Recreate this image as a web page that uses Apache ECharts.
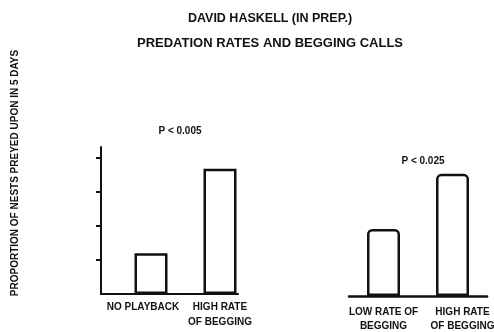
<!DOCTYPE html>
<html>
<head>
<meta charset="utf-8">
<script src="https://cdn.jsdelivr.net/npm/echarts@6/dist/echarts.min.js"></script>
<style>html,body{margin:0;padding:0;background:#fff}#c{width:494px;height:332px}</style>
</head>
<body>
<div id="c"></div>
<script>
var leftCategories = ['NO PLAYBACK', 'HIGH RATE\nOF BEGGING'];
var leftValues = [1.2, 3.68];
var rightCategories = ['LOW RATE OF\nBEGGING', 'HIGH RATE\nOF BEGGING'];
var rightValues = [1.97, 3.59];
var yTickValues = [1, 2, 3, 4];
var titleText = 'DAVID HASKELL (IN PREP.)';
var subtitleText = 'PREDATION RATES AND BEGGING CALLS';
var yAxisTitle = 'PROPORTION OF NESTS PREYED UPON IN 5 DAYS';
var leftP = 'P < 0.005';
var rightP = 'P < 0.025';

var FONT = "'Liberation Sans', Arial, Helvetica, sans-serif";
var INK = '#111';
var YMAX = 4.32;

var chart = echarts.init(document.getElementById('c'), null, {renderer: 'canvas'});

function barSeries(xi, yi, data, radius) {
  return {
    type: 'bar', xAxisIndex: xi, yAxisIndex: yi, data: data, barWidth: 33,
    itemStyle: {color: '#fff', borderColor: INK, borderWidth: 2.5, borderRadius: radius},
    silent: true, animation: false
  };
}

function richFormatter(v, i) {
  var lines = v.split('\n');
  var key = i === 0 ? 'a' : 'b';
  return lines.map(function (l) { return '{' + key + '|' + l + '}'; }).join('\n');
}

chart.setOption({
  animation: false,
  backgroundColor: '#fff',
  title: [
    {text: titleText, left: 265, top: 7, textAlign: 'center',
     textStyle: {fontFamily: FONT, fontWeight: 'bold', fontSize: 12.5, color: INK}},
    {text: subtitleText, left: 265, top: 32, textAlign: 'center',
     textStyle: {fontFamily: FONT, fontWeight: 'bold', fontSize: 13, color: INK}},
    {text: leftP, left: 175, top: 121, textAlign: 'center',
     textStyle: {fontFamily: FONT, fontWeight: 'bold', fontSize: 10, color: INK}},
    {text: rightP, left: 418, top: 151, textAlign: 'center',
     textStyle: {fontFamily: FONT, fontWeight: 'bold', fontSize: 10, color: INK}}
  ],
  graphic: [{
    type: 'text', x: 15, y: 173, rotation: Math.PI / 2,
    style: {text: yAxisTitle, fill: INK, font: 'bold 10px ' + FONT, align: 'center', verticalAlign: 'middle'}
  }],
  grid: [
    {left: 101, top: 147, width: 137, height: 147, containLabel: false, outerBoundsMode: 'none'},
    {left: 116.5, top: 147, width: 138, height: 147, containLabel: false, outerBoundsMode: 'none'},
    {left: 349, top: 149, width: 138, height: 147, containLabel: false, outerBoundsMode: 'none'}
  ],
  xAxis: [
    {type: 'category', gridIndex: 0, data: leftCategories,
     axisLine: {show: true, lineStyle: {color: INK, width: 2}},
     axisTick: {show: false}, axisLabel: {show: false}, splitLine: {show: false}},
    {type: 'category', gridIndex: 1, data: leftCategories,
     axisLine: {show: false}, axisTick: {show: false},
     axisLabel: {
       interval: 0, hideOverlap: false,
       margin: 6, color: INK, fontFamily: FONT, fontWeight: 'bold', fontSize: 10, lineHeight: 15,
       formatter: richFormatter,
       rich: {
         a: {fontFamily: FONT, fontWeight: 'bold', fontSize: 10, color: INK, lineHeight: 15, padding: [0, 16, 0, 0]},
         b: {fontFamily: FONT, fontWeight: 'bold', fontSize: 10, color: INK, lineHeight: 15}
       }
     }},
    {type: 'category', gridIndex: 2, data: rightCategories,
     axisLine: {show: true, lineStyle: {color: INK, width: 2.5}},
     axisTick: {show: false},
     axisLabel: {
       interval: 0, hideOverlap: false,
       margin: 9, color: INK, fontFamily: FONT, fontWeight: 'bold', fontSize: 10, lineHeight: 14,
       formatter: richFormatter,
       rich: {
         a: {fontFamily: FONT, fontWeight: 'bold', fontSize: 10, color: INK, lineHeight: 14},
         b: {fontFamily: FONT, fontWeight: 'bold', fontSize: 10, color: INK, lineHeight: 14, padding: [0, 0, 0, 20]}
       }
     }}
  ],
  yAxis: [
    {type: 'value', gridIndex: 0, min: 0, max: YMAX, interval: 1,
     axisLine: {show: true, lineStyle: {color: INK, width: 2}},
     axisTick: {show: true, length: 5, customValues: yTickValues, lineStyle: {color: INK, width: 2}},
     axisLabel: {show: false}, splitLine: {show: false}},
    {type: 'value', gridIndex: 1, min: 0, max: YMAX, show: false, splitLine: {show: false}},
    {type: 'value', gridIndex: 2, min: 0, max: YMAX, show: false, splitLine: {show: false}}
  ],
  series: [
    barSeries(1, 1, leftValues, 0),
    barSeries(2, 2, rightValues, [4, 4, 0, 0])
  ]
});
</script>
</body>
</html>
